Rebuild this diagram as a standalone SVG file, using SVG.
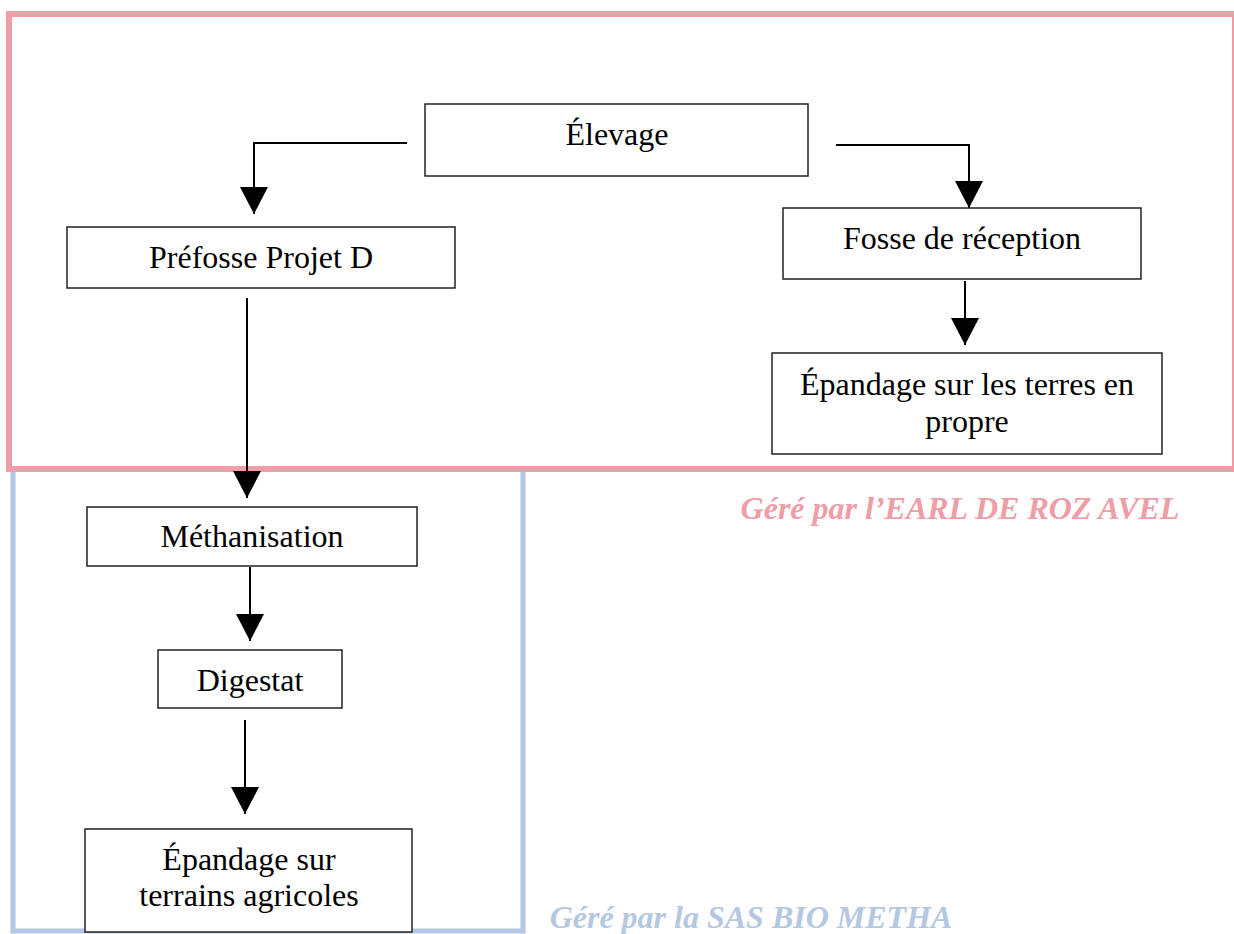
<svg xmlns="http://www.w3.org/2000/svg" width="1234" height="934" viewBox="0 0 1234 934">
<defs>
<marker id="arr" markerUnits="userSpaceOnUse" markerWidth="28" markerHeight="28" refX="27" refY="14" orient="auto" viewBox="0 0 28 28">
<path d="M0,0 L27,14 L0,28 Z" fill="#000"/>
</marker>
<style>
.node rect{fill:#fff;stroke:#222;stroke-width:1.5}
.node text{font-family:"Liberation Serif","Times New Roman",serif;font-size:32px;fill:#000;text-anchor:middle}
.conn{fill:none;stroke:#000;stroke-width:2;marker-end:url(#arr)}
.lbl{font-family:"Liberation Serif","Times New Roman",serif;font-size:32px;font-weight:bold;font-style:italic}
</style>
</defs>
<rect width="1234" height="934" fill="#fff"/>
<g id="zone-sas">
<path d="M13,470 L13,931 L523,931 L523,470" fill="none" stroke="#B5C8E1" stroke-width="5"/>
</g>
<g id="zone-earl">
<rect x="9" y="14" width="1226" height="455" fill="none" stroke="#EF9DA7" stroke-width="6"/>
</g>
<g id="connectors">
<path class="conn" d="M407,143 L254,143 L254,214"/>
<path class="conn" d="M836,145 L969,145 L969,208"/>
<path class="conn" d="M965,281 L965,345"/>
<path class="conn" d="M247,298 L247,498"/>
<path class="conn" d="M250,567 L250,641"/>
<path class="conn" d="M245,720 L245,814"/>
</g>
<g id="elevage" class="node"><rect x="425" y="104" width="383" height="72"/><text x="617" y="145">Élevage</text></g>
<g id="prefosse" class="node"><rect x="67" y="227" width="388" height="61"/><text x="261" y="268">Préfosse Projet D</text></g>
<g id="fosse" class="node"><rect x="783" y="208" width="358" height="71"/><text x="962" y="249">Fosse de réception</text></g>
<g id="epandage-propre" class="node"><rect x="772" y="353" width="390" height="101"/><text x="967" y="395">Épandage sur les terres en</text><text x="967" y="432">propre</text></g>
<g id="methanisation" class="node"><rect x="87" y="507" width="330" height="59"/><text x="252" y="547">Méthanisation</text></g>
<g id="digestat" class="node"><rect x="158" y="650" width="184" height="58"/><text x="250" y="691">Digestat</text></g>
<g id="epandage-agricoles" class="node"><rect x="85" y="829" width="327" height="103"/><text x="249" y="870">Épandage sur</text><text x="249" y="906">terrains agricoles</text></g>
<text class="lbl" x="960" y="519" text-anchor="middle" fill="#EF9DA7">Géré par l’EARL DE ROZ AVEL</text>
<text class="lbl" x="751" y="928" text-anchor="middle" fill="#B5C8E1">Géré par la SAS BIO METHA</text>
</svg>
